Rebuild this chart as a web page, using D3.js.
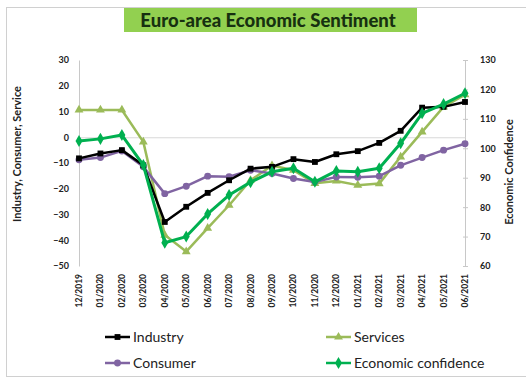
<!DOCTYPE html>
<html>
<head>
<meta charset="utf-8">
<script src="https://cdn.jsdelivr.net/npm/d3@7/dist/d3.min.js"></script>
<style>
  html, body { margin: 0; padding: 0; background: #fff; }
  svg { display: block; }
  text { font-family: Lato, "Open Sans", sans-serif; }
</style>
</head>
<body>
<svg id="chart" width="526" height="381"></svg>
<script>
// Monthly categories
const months = ["12/2019","01/2020","02/2020","03/2020","04/2020","05/2020","06/2020",
  "07/2020","08/2020","09/2020","10/2020","11/2020","12/2020","01/2021","02/2021",
  "03/2021","04/2021","05/2021","06/2021"];

// Balance indicators (left axis)
const industry = [-8.2,-6.3,-5.0,-10.9,-32.9,-27.0,-21.6,-16.7,-12.2,-11.5,-8.5,-9.6,-6.6,-5.4,-2.2,2.5,11.5,11.8,13.7];
const services = [10.6,10.6,10.6,-1.8,-38.0,-44.4,-35.3,-26.4,-16.7,-11.0,-12.8,-17.9,-17.0,-18.6,-18.0,-7.6,2.1,11.8,16.5];
const consumer = [-8.7,-7.9,-5.3,-11.5,-21.9,-19.0,-15.1,-15.3,-12.8,-14.1,-16.0,-17.4,-15.4,-15.5,-15.1,-10.9,-7.9,-5.0,-2.5];

// Economic sentiment indicator (right axis)
const confidence = [102.5,103.2,104.5,94.3,67.9,70.0,77.7,84.1,88.5,92.0,93.2,88.6,92.3,92.0,93.2,101.7,111.9,115.0,118.7];

const leftTicks = [30,20,10,0,-10,-20,-30,-40,-50];
const rightTicks = [130,120,110,100,90,80,70,60];

const svg = d3.select("#chart");

// chart frame
svg.append("rect").attr("x", 6.5).attr("y", 7.5).attr("width", 530).attr("height", 369)
  .attr("fill", "#fff").attr("stroke", "#d0d0d0");

// title
svg.append("rect").attr("x", 124).attr("y", 8).attr("width", 293).attr("height", 24)
  .attr("fill", "#92d050");
svg.append("text").attr("x", 268).attr("y", 26.5).attr("text-anchor", "middle")
  .attr("font-size", 18.5).attr("font-weight", 900).attr("fill", "#173010")
  .text("Euro-area Economic Sentiment");

const x = d3.scalePoint().domain(months).range([79, 465]);
const yL = d3.scaleLinear().domain([-50, 30]).range([266, 60]);
const yR = d3.scaleLinear().domain([60, 130]).range([266, 60]);

// left axis
const gL = svg.append("g").attr("transform", "translate(79,0)")
  .call(d3.axisLeft(yL).tickValues(leftTicks).tickSize(0).tickPadding(10));
gL.select(".domain").attr("stroke", "#c8c8c8");
gL.selectAll("text").attr("font-size", 9).attr("font-weight", "bold").attr("fill", "#222")
  .attr("font-family", "Lato, sans-serif");

// right axis
const gR = svg.append("g").attr("transform", "translate(465,0)")
  .call(d3.axisRight(yR).tickValues(rightTicks).tickSizeInner(3).tickSizeOuter(0).tickPadding(12));
gR.select(".domain").attr("stroke", "#c8c8c8");
gR.selectAll(".tick line").attr("stroke", "#c8c8c8").attr("x1", -2);
gR.selectAll("text").attr("font-size", 9).attr("font-weight", "bold").attr("fill", "#222")
  .attr("font-family", "Lato, sans-serif");

// category axis crossing at zero
const gX = svg.append("g").attr("transform", `translate(0,${yL(0)})`)
  .call(d3.axisBottom(x).tickSize(0).tickFormat(""));
gX.select(".domain").attr("stroke", "#d8d8d8");

// category labels along the bottom
svg.append("g").selectAll("text").data(months).join("text")
  .attr("transform", d => `translate(${x(d) + 3},274) rotate(-90)`)
  .attr("text-anchor", "end")
  .attr("font-size", 8.5).attr("font-weight", "bold").attr("fill", "#222")
  .text(d => d);

// axis titles
svg.append("text").attr("transform", "translate(21,154) rotate(-90)")
  .attr("text-anchor", "middle").attr("font-size", 11).attr("font-weight", "bold").attr("fill", "#222")
  .text("Industry, Consumer, Service");
svg.append("text").attr("transform", "translate(513,172) rotate(-90)")
  .attr("text-anchor", "middle").attr("font-size", 11).attr("font-weight", "bold").attr("fill", "#222")
  .text("Economic Confidence");

const series = [
  { name: "Services", values: services, scale: yL, color: "#9bbb59", symbol: d3.symbolTriangle, size: 34, width: 2.5 },
  { name: "Consumer", values: consumer, scale: yL, color: "#8064a2", symbol: d3.symbolCircle, size: 38, width: 2.5 },
  { name: "Industry", values: industry, scale: yL, color: "#000000", symbol: d3.symbolSquare, size: 34, width: 2.5 },
  { name: "Economic confidence", values: confidence, scale: yR, color: "#00b050", symbol: d3.symbolDiamond, size: 42, width: 3 }
];

const plot = svg.append("g");
series.forEach(s => {
  const line = d3.line().x((d, i) => x(months[i])).y(d => s.scale(d));
  plot.append("path").datum(s.values).attr("d", line)
    .attr("fill", "none").attr("stroke", s.color).attr("stroke-width", s.width)
    .attr("stroke-linejoin", "round");
  plot.append("g").selectAll("path").data(s.values).join("path")
    .attr("transform", (d, i) => `translate(${x(months[i])},${s.scale(d)})`)
    .attr("d", d3.symbol().type(s.symbol).size(s.size))
    .attr("fill", s.color);
});

// legend
const legendItems = [
  { s: series[2], lx: 105, ly: 337 },
  { s: series[0], lx: 326, ly: 337 },
  { s: series[1], lx: 105, ly: 363 },
  { s: series[3], lx: 326, ly: 363 }
];
const lg = svg.append("g");
legendItems.forEach(({ s, lx, ly }) => {
  lg.append("line").attr("x1", lx).attr("x2", lx + 25).attr("y1", ly).attr("y2", ly)
    .attr("stroke", s.color).attr("stroke-width", 2.5);
  lg.append("path").attr("transform", `translate(${lx + 12.5},${ly})`)
    .attr("d", d3.symbol().type(s.symbol).size(s.size)).attr("fill", s.color);
  lg.append("text").attr("x", lx + 28).attr("y", ly + 5)
    .attr("font-size", 14).attr("fill", "#222").text(s.name);
});
</script>
</body>
</html>
